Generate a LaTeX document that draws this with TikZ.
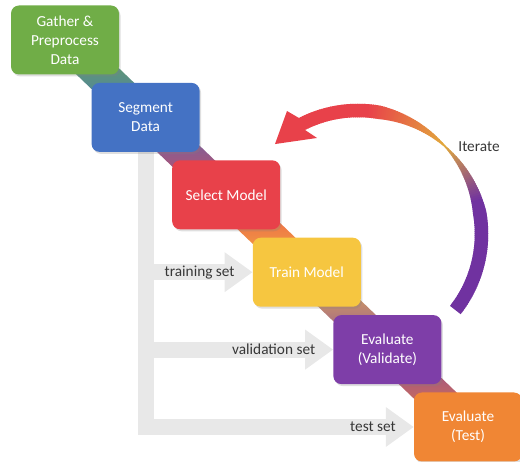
\documentclass[tikz,border=0pt]{standalone}
\usepackage{fontspec}
\setmainfont{Carlito}
\usetikzlibrary{arrows.meta,calc,backgrounds,shadows}

\definecolor{cgreen}{RGB}{112,173,71}
\definecolor{cblue}{RGB}{68,114,196}
\definecolor{cred}{RGB}{232,65,74}
\definecolor{cyellow}{RGB}{246,198,64}
\definecolor{cpurple}{RGB}{126,62,168}
\definecolor{corange}{RGB}{240,134,52}
\definecolor{cgray}{RGB}{232,232,232}
\definecolor{ctext}{RGB}{55,55,55}
\definecolor{carc}{RGB}{112,50,160}
\definecolor{cgold}{RGB}{226,170,60}

\tikzset{
	stepbox/.style={rounded corners=8pt, minimum width=108pt, minimum height=69pt,
		text=white, align=center, inner sep=2pt,
		drop shadow={opacity=0.25, shadow xshift=1.5pt, shadow yshift=-2pt}},
	setarrow/.style={draw=cgray, line width=16pt, -{Triangle[width=38pt,length=28pt]}},
	setlabel/.style={pos=1, anchor=east, xshift=-10pt, inner sep=0pt, text=ctext}
}

\begin{document}
\begin{tikzpicture}[x=1pt, y=-1pt, font=\fontsize{15.3}{19}\selectfont]

\useasboundingbox (0,0) rectangle (520,462);

% workflow steps
\foreach \n/\col/\txt [count=\i from 0] in {
	gather/cgreen/{Gather \&\\Preprocess\\Data},
	segment/cblue/{Segment\\Data},
	select/cred/{Select Model},
	train/cyellow/{Train Model},
	validate/cpurple/{Evaluate\\(Validate)},
	test/corange/{Evaluate\\(Test)}} {
	\node[stepbox, fill=\col] (\n) at ({65+80.6*\i},{40+77.4*\i}) {\txt};
}

\begin{scope}[on background layer]
	% band behind the steps
	\foreach \p/\q/\ca/\cb in {gather/segment/cgreen/cblue, segment/select/cblue/cred,
		select/train/cred/cyellow, train/validate/cyellow/cpurple, validate/test/cpurple/corange} {
		\shade[top color=\ca, bottom color=\cb]
			($(\p.center)!17pt!90:(\q.center)$) -- ($(\p.center)!17pt!-90:(\q.center)$) --
			($(\q.center)!17pt!90:(\p.center)$) -- ($(\q.center)!17pt!-90:(\p.center)$) -- cycle;
	}

	% data sets
	\draw[setarrow] (segment.south) |- (test.west) node[setlabel] {test set};
	\draw[setarrow] (segment.south |- train.west) -- (train.west) node[setlabel] {training set};
	\draw[setarrow] (segment.south |- validate.west) -- (validate.west) node[setlabel] {validation set};
\end{scope}

% iterate loop
\coordinate (loop) at (358,234);
\foreach \a in {38,37,...,-117} {
	\pgfmathsetmacro\e{\a-1.4}
	\pgfmathsetmacro\ta{min(13.5,1.5+12*abs(\a+45)/35)}
	\pgfmathsetmacro\tb{min(13.5,1.5+12*abs(\e+45)/35)}
	\pgfmathsetmacro\roa{123.5+\ta/2}
	\pgfmathsetmacro\ria{123.5-\ta/2}
	\pgfmathsetmacro\rob{123.5+\tb/2}
	\pgfmathsetmacro\rib{123.5-\tb/2}
	\pgfmathtruncatemacro\pa{max(0,min(100,(-15-\a)*100/30))}
	\pgfmathtruncatemacro\pb{max(0,min(100,(-45-\a)*100/40))}
	\ifnum\pb>0 \colorlet{arccol}{cred!\pb!cgold}\else\colorlet{arccol}{cgold!\pa!carc}\fi
	\fill[arccol, shift={(loop)}] (\a:\roa) -- (\e:\rob) -- (\e:\rib) -- (\a:\ria) -- cycle;
}
\fill[cred, shift={(loop)}] (-117:130.25) -- (-120:142) -- (-132.7:122.4) -- (-113.1:104.4) -- (-117:116.75) -- cycle;
\node[text=ctext] (iterate) at (479,147) {Iterate};

\end{tikzpicture}
\end{document}
